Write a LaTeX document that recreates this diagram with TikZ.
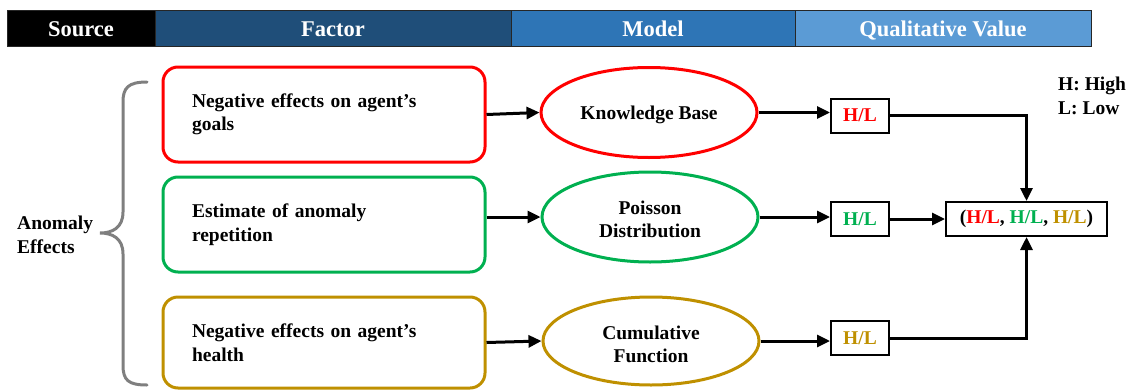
\documentclass[tikz,border=0pt]{standalone}
\usepackage{fontspec}
\setmainfont{Liberation Serif}
\usetikzlibrary{arrows.meta,shapes.geometric}

\definecolor{cRed}{HTML}{FF0000}
\definecolor{cGreen}{HTML}{00B050}
\definecolor{cGold}{HTML}{BF9000}
\definecolor{hdrA}{HTML}{000000}
\definecolor{hdrB}{HTML}{1F4E79}
\definecolor{hdrC}{HTML}{2E75B6}
\definecolor{hdrD}{HTML}{5B9BD5}
\definecolor{braceGray}{HTML}{7F7F7F}

% centred text lines inside an ellipse, lowered by #1 (zero-size box)
\newcommand{\ellstack}[2]{\raisebox{-#1}[0pt][0pt]{\begin{tabular}{@{}c@{}}#2\end{tabular}}}

\tikzset{
  txt/.style={font=\fontsize{19.5}{23.5}\selectfont\bfseries},
  hdr/.style={draw=black!85, line width=1pt, minimum height=36pt, inner sep=0pt,
              text height=17pt, text depth=0pt,
              text=white, font=\fontsize{22.5}{24}\selectfont\bfseries},
  factorbox/.style={txt, draw, line width=3pt, rounded corners=15pt,
              minimum height=95pt, text width=264pt, inner xsep=29pt, inner ysep=0pt, align=left},
  modelell/.style={txt, ellipse, draw, line width=3pt, minimum width=216pt,
              minimum height=90pt, inner sep=0pt},
  valbox/.style={txt, draw, line width=2pt, minimum width=58pt, minimum height=34pt, inner sep=0pt},
  conn/.style={line width=3pt, -{Triangle[length=13pt,width=12pt]}},
}

\begin{document}
\begin{tikzpicture}[x=1pt, y=-1pt]
\useasboundingbox (0,0) rectangle (1134,391);

% header row
\node[hdr, fill=hdrA, minimum width=148pt] (hSource) at (81,28) {Source};
\node[hdr, fill=hdrB, minimum width=356pt] (hFactor) at (333,28) {Factor};
\node[hdr, fill=hdrC, minimum width=284pt] (hModel) at (653,28) {Model};
\node[hdr, fill=hdrD, minimum width=296pt] (hValue) at (943,28) {Qualitative Value};

% source label and brace
\node[txt, align=left, anchor=west, inner sep=0pt] (src) at (17,235) {Anomaly\\Effects};
\draw[braceGray, line width=3pt, line cap=round]
  (147,82) .. controls (128,82) and (123,88) .. (123,102) -- (123,212)
  .. controls (123,228) and (112,233) .. (100,233)
  .. controls (112,233) and (123,238) .. (123,254) -- (123,365)
  .. controls (123,380) and (128,385) .. (147,385);

% factors
\node[factorbox, draw=cRed] (f1) at (324,114.5) {\raisebox{-1pt}{\parbox{264pt}{Negative effects on agent’s\\goals}}};
\node[factorbox, draw=cGreen] (f2) at (324,224.5) {\raisebox{3pt}{\parbox{264pt}{Estimate of anomaly\\repetition}}};
\node[factorbox, draw=cGold, minimum height=91pt] (f3) at (324,342.5) {Negative effects on agent’s\\health};

% models
\node[modelell, draw=cRed] (e1) at (649,112.5) {\ellstack{7.2pt}{Knowledge Base}};
\node[modelell, draw=cGreen] (e2) at (650,217) {\ellstack{9.7pt}{Poisson\\Distribution}};
\node[modelell, draw=cGold, minimum height=88pt] (e3) at (651,341) {\ellstack{10.7pt}{Cumulative\\Function}};

% qualitative values
\node[valbox, text=cRed] (v1) at (860,115.5) {H/L};
\node[valbox, text=cGreen] (v2) at (860,219) {H/L};
\node[valbox, text=cGold] (v3) at (860,338) {H/L};

\node[valbox, minimum width=161pt] (fin) at (1026.5,219)
  {(\textcolor{cRed}{H/L}, \textcolor{cGreen}{H/L}, \textcolor{cGold}{H/L})};

\node[txt, align=left, anchor=north west, inner sep=0pt] (legend) at (1058,77) {H: High\\L: Low};

% connectors
\draw[conn] (f1.east) -- (e1.west);
\draw[conn] (f2.east |- e2.west) -- (e2.west);
\draw[conn] (f3.east) -- (e3.west);

\draw[conn] (e1.east) -- (e1.east -| v1.west);
\draw[conn] (e2.east) -- (e2.east -| v2.west);
\draw[conn] (e3.east) -- (e3.east -| v3.west);

\draw[conn] (v1.east) -| (fin.north);
\draw[conn] (v2.east) -- (v2.east -| fin.west);
\draw[conn] (v3.east) -| (fin.south);
\end{tikzpicture}
\end{document}
